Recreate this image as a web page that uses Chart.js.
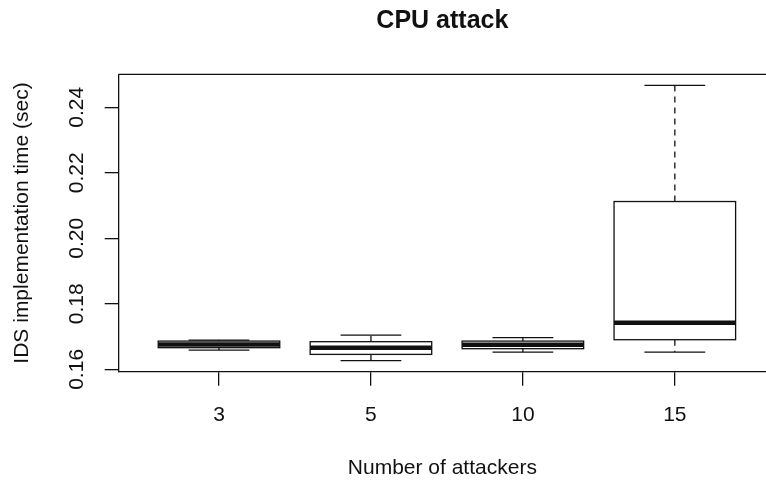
<!DOCTYPE html>
<html>
<head>
<meta charset="utf-8">
<title>CPU attack</title>
<script src="https://cdn.jsdelivr.net/npm/chart.js@4/dist/chart.umd.min.js"></script>
<style>
  html, body { margin: 0; padding: 0; background: #ffffff; overflow: hidden; }
  canvas { display: block; }
</style>
</head>
<body>
<canvas id="chart" width="766" height="483"></canvas>
<script>
// Number of attackers (one box per group)
const categories = ['3', '5', '10', '15'];

// Five-number summaries of the IDS implementation time (sec)
const whiskerLow  = [0.16588, 0.16265, 0.16527, 0.16527];
const lowerQuart  = [0.16662, 0.16457, 0.16631, 0.16905];
const medians     = [0.16762, 0.16662, 0.16753, 0.17424];
const upperQuart  = [0.16863, 0.16845, 0.16863, 0.21122];
const whiskerHigh = [0.16893, 0.17046, 0.16966, 0.24668];

// Value-axis tick labels
const yTicks = [0.16, 0.18, 0.20, 0.22, 0.24];

const INK = '#111111';
const FONT = '"Liberation Sans", Arial, Helvetica, sans-serif';

// y range padded by 4% of the data range on each side
const dataLo = Math.min(...whiskerLow);
const dataHi = Math.max(...whiskerHigh);
const yPad = (dataHi - dataLo) * 0.04;

// Draws whiskers, staples, boxes and medians through the chart's scales
const boxPlotPlugin = {
  id: 'boxPlot',
  afterDatasetsDraw(chart) {
    const { ctx, chartArea, scales: { x, y } } = chart;
    const seg = (x1, y1, x2, y2) => {
      ctx.beginPath();
      ctx.moveTo(x1, y1);
      ctx.lineTo(x2, y2);
      ctx.stroke();
    };
    ctx.save();
    ctx.strokeStyle = INK;
    ctx.lineCap = 'butt';

    // upper edge of the plot frame
    ctx.lineWidth = 1.3;
    seg(chartArea.left, chartArea.top, chartArea.right, chartArea.top);

    categories.forEach((cat, i) => {
      const cx = x.getPixelForValue(i + 1);
      const halfBox = x.getPixelForValue(i + 1.4) - cx;
      const halfCap = halfBox / 2;
      const yHi = y.getPixelForValue(whiskerHigh[i]);
      const yQ3 = y.getPixelForValue(upperQuart[i]);
      const yMed = y.getPixelForValue(medians[i]);
      const yQ1 = y.getPixelForValue(lowerQuart[i]);
      const yLo = y.getPixelForValue(whiskerLow[i]);

      // dashed whiskers
      ctx.lineWidth = 1.3;
      ctx.setLineDash([6, 5]);
      seg(cx, yQ3, cx, yHi);
      seg(cx, yQ1, cx, yLo);
      ctx.setLineDash([]);

      // staples
      seg(cx - halfCap, yHi, cx + halfCap, yHi);
      seg(cx - halfCap, yLo, cx + halfCap, yLo);

      // box
      ctx.strokeRect(cx - halfBox, yQ3, 2 * halfBox, yQ1 - yQ3);

      // median
      ctx.lineWidth = 4.5;
      seg(cx - halfBox, yMed, cx + halfBox, yMed);
    });
    ctx.restore();
  }
};

new Chart(document.getElementById('chart'), {
  type: 'scatter',
  data: { datasets: [] },
  options: {
    responsive: false,
    animation: false,
    devicePixelRatio: 1,
    layout: { padding: 0 },
    plugins: {
      legend: { display: false },
      tooltip: { enabled: false },
      title: {
        display: true,
        text: 'CPU attack',
        fullSize: false,
        color: INK,
        font: { family: FONT, size: 25, weight: 'bold', lineHeight: 1.2 },
        padding: { top: 6, bottom: 38.3 }
      }
    },
    scales: {
      x: {
        type: 'linear',
        min: 0.5 - 0.04 * categories.length,
        max: 4.60,
        afterFit(scale) { scale.height = 111.3; },
        afterBuildTicks(scale) {
          scale.ticks = categories.map((c, i) => ({ value: i + 1 }));
        },
        grid: {
          display: true,
          drawOnChartArea: false,
          drawTicks: true,
          tickLength: 14,
          color: INK,
          lineWidth: 1.3
        },
        border: { display: true, color: INK, width: 1.3 },
        ticks: {
          autoSkip: false,
          maxRotation: 0,
          minRotation: 0,
          padding: 16.7,
          color: INK,
          font: { family: FONT, size: 21 },
          callback: (v) => categories[Math.round(v) - 1]
        },
        title: {
          display: true,
          text: 'Number of attackers',
          color: INK,
          font: { family: FONT, size: 21, lineHeight: 1.2 },
          padding: { top: 0, bottom: 2 }
        }
      },
      y: {
        type: 'linear',
        min: dataLo - yPad,
        max: dataHi + yPad,
        afterFit(scale) { scale.width = 118.7; },
        afterBuildTicks(scale) {
          scale.ticks = yTicks.map(v => ({ value: v }));
        },
        grid: {
          display: true,
          drawOnChartArea: false,
          drawTicks: true,
          tickLength: 14,
          color: INK,
          lineWidth: 1.3
        },
        border: { display: true, color: INK, width: 1.3 },
        ticks: {
          minRotation: 90,
          maxRotation: 90,
          crossAlign: 'center',
          padding: 6.8,
          color: INK,
          font: { family: FONT, size: 21 },
          callback: (v) => v.toFixed(2)
        },
        title: {
          display: true,
          text: 'IDS implementation time (sec)',
          color: INK,
          font: { family: FONT, size: 21, lineHeight: 1.2 },
          padding: { top: 9.4, bottom: 0 }
        }
      }
    }
  },
  plugins: [boxPlotPlugin]
});
</script>
</body>
</html>
